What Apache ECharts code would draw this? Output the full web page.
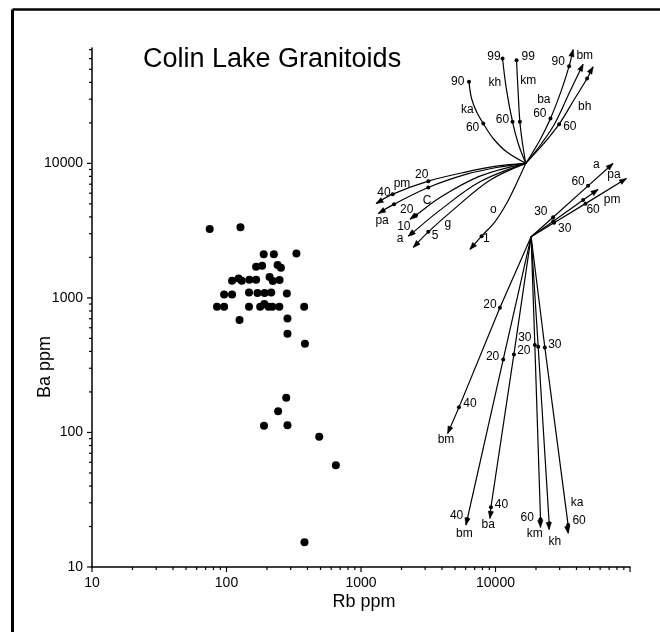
<!DOCTYPE html>
<html>
<head>
<meta charset="utf-8">
<script src="https://cdn.jsdelivr.net/npm/echarts@6/dist/echarts.min.js"></script>
<style>
  html, body { margin: 0; padding: 0; background: #fff; }
  #chart { width: 660px; height: 632px; }
</style>
</head>
<body>
<div id="chart"></div>
<script>
// Axis ranges and tick labels
const rbRange = [10, 100000];
const baRange = [10, 72000];
const xTickLabels = ['10', '100', '1000', '10000'];
const yTickLabels = ['10', '100', '1000', '10000'];

// Whole-rock samples, Colin Lake granitoids
const sampleRb = [75, 127, 189, 225, 331, 166, 184, 240, 254, 110, 123, 130, 148, 166, 209, 221, 248,
  96, 110, 147, 170, 192, 215, 281, 85, 96, 147, 178, 191, 205, 219, 247, 378, 125, 284, 284, 383,
  278, 242, 190, 284, 489, 650, 380];
const sampleBa = [3245, 3357, 2115, 2115, 2141, 1703, 1732, 1753, 1673, 1340, 1396, 1340, 1363, 1363, 1427, 1333, 1356,
  1062, 1062, 1099, 1086, 1086, 1099, 1080, 859, 859, 859, 859, 899, 859, 859, 859, 859, 684, 704, 541, 456,
  181, 144, 112, 113, 93, 57, 15.3];

// Partial-melting vectors (curved), all starting at the same source composition
const meltKa = [[16800, 10000], [12080, 12180], [9620, 15300], [8110, 19780], [7230, 24150], [6640, 30330], [6350, 40350]];
const meltKh = [[16800, 10000], [14750, 14050], [13390, 20350], [12080, 34990], [11280, 60130]];
const meltKm = [[16800, 10000], [15880, 14050], [15180, 20350], [14750, 33050], [14330, 58440]];
const meltBa = [[16800, 10000], [21360, 14870], [25630, 21540], [30930, 34990], [35270, 52760], [37760, 70150]];
const meltBm = [[16800, 10000], [21980, 14050], [27610, 19780], [35680, 34010], [44810, 54580]];
const meltBh = [[16800, 10000], [22870, 14050], [29730, 19550], [38860, 30330], [47970, 42700], [53150, 52150]];
const meltPm = [[16800, 10000], [10180, 9533], [6100, 8650], [3166, 7376], [1722, 5905], [1295, 5035]];
const meltPa = [[16800, 10000], [10180, 9320], [6100, 8310], [3166, 6622], [1761, 4977], [1347, 4245]];
const meltC = [[16800, 10000], [7660, 8030], [3870, 5580], [2564, 4123], [2314, 3849]];
const meltA = [[16800, 10000], [7660, 7290], [3870, 4490], [2383, 3015], [2248, 2878]];
const meltG = [[16800, 10000], [9090, 7500], [5140, 4750], [3166, 3098], [2449, 2373]];
const meltO = [[16800, 10000], [14330, 7090], [12080, 5030], [9900, 3680], [7884, 2878], [6457, 2293]];

// Fractional-crystallisation vectors (straight), from a second parent composition
const fracA = [[18400, 2850], [26820, 3977], [48780, 6805], [74780, 9984]];
const fracPa = [[18400, 2850], [26910, 3720], [44790, 5337], [57860, 6399]];
const fracPm = [[18400, 2850], [27280, 3614], [46660, 5019], [94040, 7723]];
const fracBm1 = [[18400, 2850], [10780, 845], [5350, 153.6], [4409, 98.4]];
const fracBm2 = [[18400, 2850], [11415, 349], [6168, 22.7], [6030, 20.5]];
const fracBa = [[18400, 2850], [13700, 380], [9246, 27.8], [9088, 23.0]];
const fracKm = [[18400, 2850], [19610, 446], [21610, 22.6], [21610, 19.7]];
const fracKh = [[18400, 2850], [20770, 433.5], [25060, 21.1], [25060, 19.0]];
const fracKa = [[18400, 2850], [23270, 428.5], [34670, 20.5], [34670, 17.8]];

// Percentage marks along the vectors
const vectorDots = [
  [8110, 19780], [6350, 40350], [13390, 20350], [11280, 60130], [15180, 20350], [14330, 58440],
  [25630, 21540], [35270, 52760], [29730, 19550], [47970, 42700],
  [3166, 7376], [1722, 5905], [3166, 6622], [1761, 4977], [2564, 4123], [2383, 3015], [3166, 3098], [7884, 2878],
  [26820, 3977], [48780, 6805], [26910, 3720], [44790, 5337], [27280, 3614], [46660, 5019],
  [10780, 845], [5350, 153.6], [11415, 349], [6168, 22.7], [13700, 380], [9246, 27.8],
  [19610, 446], [21610, 22.6], [20770, 433.5], [25060, 21.1], [23270, 428.5], [34670, 20.5]
];

// Mineral and percentage annotations: [text, Rb, Ba]
const vectorLabels = [
  ['99', 9728, 61870], ['99', 17500, 61870], ['90', 5229, 40800], ['kh', 9897, 39660], ['km', 17500, 41040],
  ['ka', 6167, 24850], ['60', 6757, 18470], ['60', 11280, 20940], ['ba', 22870, 29480], ['60', 21360, 23470],
  ['90', 29220, 56790], ['bm', 46110, 63660], ['bh', 46110, 26300], ['60', 35680, 18680],
  ['20', 2828, 8241], ['pm', 2018, 7092], ['40', 1480, 6100], ['pa', 1434, 3752], ['C', 3095, 5239],
  ['20', 2188, 4514], ['10', 2082, 3375], ['a', 1951, 2744], ['g', 4418, 3552], ['5', 3549, 2878],
  ['o', 9647, 4491], ['1', 8560, 2744],
  ['a', 56310, 9696], ['60', 41120, 7290], ['pa', 76070, 8172], ['pm', 73530, 5329], ['60', 53130, 4491],
  ['30', 21730, 4362], ['30', 32750, 3283],
  ['20', 9088, 894], ['40', 6457, 164], ['bm', 4284, 88], ['20', 9512, 365], ['30', 16530, 508],
  ['20', 16250, 402], ['30', 27610, 451], ['40', 11090, 28.9], ['40', 5140, 23.9], ['bm', 5861, 17.8],
  ['ba', 8834, 20.5], ['60', 17200, 23.4], ['km', 19610, 17.6], ['kh', 27610, 15.4], ['ka', 40440, 30.1],
  ['60', 41850, 22.1]
];

const vectorList = [
  { pts: meltKa, arrow: false, smooth: 0.35 },
  { pts: meltKh, arrow: false, smooth: 0.35 },
  { pts: meltKm, arrow: false, smooth: 0.35 },
  { pts: meltBa, arrow: true, smooth: 0.35 },
  { pts: meltBm, arrow: true, smooth: 0.35 },
  { pts: meltBh, arrow: true, smooth: 0.35 },
  { pts: meltPm, arrow: true, smooth: 0.35 },
  { pts: meltPa, arrow: true, smooth: 0.35 },
  { pts: meltC, arrow: true, smooth: 0.35 },
  { pts: meltA, arrow: true, smooth: 0.35 },
  { pts: meltG, arrow: true, smooth: 0.35 },
  { pts: meltO, arrow: true, smooth: 0.35 },
  { pts: fracA, arrow: true, smooth: 0 },
  { pts: fracPa, arrow: true, smooth: 0 },
  { pts: fracPm, arrow: true, smooth: 0 },
  { pts: fracBm1, arrow: true, smooth: 0 },
  { pts: fracBm2, arrow: true, smooth: 0 },
  { pts: fracBa, arrow: true, smooth: 0 },
  { pts: fracKm, arrow: true, smooth: 0 },
  { pts: fracKh, arrow: true, smooth: 0 },
  { pts: fracKa, arrow: true, smooth: 0 }
];

const FONT = '"Liberation Sans", Arial, Helvetica, sans-serif';

// Log tick positions: decades get long ticks, 2..9 multiples get short ones
function logTicks(range) {
  const out = [];
  for (let d = range[0]; d <= range[1]; d *= 10) {
    out.push([d, 5]);
    for (let m = 2; m <= 9; m++) {
      if (m * d <= range[1] * 1.0001) out.push([m * d, 3]);
    }
  }
  return out;
}

function tickSeries(axis) {
  const ticks = logTicks(axis === 'x' ? rbRange : baRange);
  return {
    type: 'custom',
    coordinateSystem: 'cartesian2d',
    silent: true,
    clip: false,
    z: 4,
    data: ticks.map(t => axis === 'x' ? [t[0], baRange[0], t[1]] : [rbRange[0], t[0], t[1]]),
    renderItem(params, api) {
      const p = api.coord([api.value(0), api.value(1)]);
      const len = api.value(2);
      const shape = axis === 'x'
        ? { x1: p[0], y1: p[1], x2: p[0], y2: p[1] + len }
        : { x1: p[0] - len, y1: p[1], x2: p[0], y2: p[1] };
      return { type: 'line', shape, style: { stroke: '#000', lineWidth: 1.2 } };
    }
  };
}

function vectorSeries() {
  return {
    type: 'custom',
    coordinateSystem: 'cartesian2d',
    silent: true,
    clip: false,
    z: 3,
    data: vectorList.map((v, i) => [v.pts[0][0], v.pts[0][1], i]),
    renderItem(params, api) {
      const v = vectorList[api.value(2)];
      const pts = v.pts.map(p => api.coord(p));
      const children = [{
        type: 'polyline',
        shape: { points: pts, smooth: v.smooth },
        style: { stroke: '#000', lineWidth: 1.2, fill: null }
      }];
      if (v.arrow) {
        const tip = pts[pts.length - 1];
        let k = pts.length - 2;
        while (k > 0 && Math.hypot(tip[0] - pts[k][0], tip[1] - pts[k][1]) < 14) k--;
        const dx = tip[0] - pts[k][0], dy = tip[1] - pts[k][1];
        const L = Math.hypot(dx, dy) || 1;
        const ux = dx / L, uy = dy / L;
        const len = 7, half = 2.6;
        const bx = tip[0] - ux * len, by = tip[1] - uy * len;
        children.push({
          type: 'polygon',
          shape: { points: [tip, [bx - uy * half, by + ux * half], [bx + uy * half, by - ux * half]] },
          style: { fill: '#000', stroke: '#000', lineWidth: 0.6 }
        });
      }
      return { type: 'group', children };
    }
  };
}

function labelSeries() {
  return {
    type: 'custom',
    coordinateSystem: 'cartesian2d',
    silent: true,
    clip: false,
    z: 5,
    data: vectorLabels.map(l => [l[1], l[2]]),
    renderItem(params, api) {
      const p = api.coord([api.value(0), api.value(1)]);
      return {
        type: 'text',
        x: p[0],
        y: p[1],
        style: {
          text: vectorLabels[params.dataIndex][0],
          fill: '#000',
          font: '12px ' + FONT,
          align: 'center',
          verticalAlign: 'middle'
        }
      };
    }
  };
}

const chart = echarts.init(document.getElementById('chart'), null, { renderer: 'canvas' });

chart.setOption({
  backgroundColor: '#fff',
  animation: false,
  grid: { left: 92, right: 30, top: 48, bottom: 65 },
  xAxis: {
    type: 'log',
    logBase: 10,
    min: rbRange[0],
    max: rbRange[1],
    axisLine: { lineStyle: { color: '#000', width: 1.5 } },
    axisTick: { show: false },
    splitLine: { show: false },
    axisLabel: {
      color: '#000',
      fontSize: 14,
      fontFamily: FONT,
      margin: 9,
      formatter: v => {
        const s = String(Math.round(v));
        return xTickLabels.includes(s) ? s : '';
      }
    }
  },
  yAxis: {
    type: 'log',
    logBase: 10,
    min: baRange[0],
    max: baRange[1],
    axisLine: { lineStyle: { color: '#000', width: 1.5 } },
    axisTick: { show: false },
    splitLine: { show: false },
    axisLabel: {
      color: '#000',
      fontSize: 14,
      fontFamily: FONT,
      margin: 9,
      formatter: v => {
        const s = String(Math.round(v));
        return yTickLabels.includes(s) ? s : '';
      }
    }
  },
  graphic: [
    { type: 'line', shape: { x1: 12.5, y1: 9.5, x2: 660, y2: 9.5 }, style: { stroke: '#000', lineWidth: 2.5 } },
    { type: 'line', shape: { x1: 12.5, y1: 9.5, x2: 12.5, y2: 632 }, style: { stroke: '#000', lineWidth: 3 } },
    {
      type: 'text', x: 143, y: 60,
      style: { text: 'Colin Lake Granitoids', fill: '#000', font: '27px ' + FONT, align: 'left', verticalAlign: 'middle' }
    },
    {
      type: 'text', x: 364, y: 602,
      style: { text: 'Rb ppm', fill: '#000', font: '18px ' + FONT, align: 'center', verticalAlign: 'middle' }
    },
    {
      type: 'text', x: 45, y: 367, rotation: Math.PI / 2,
      style: { text: 'Ba ppm', fill: '#000', font: '18px ' + FONT, align: 'center', verticalAlign: 'middle' }
    }
  ],
  series: [
    tickSeries('x'),
    tickSeries('y'),
    vectorSeries(),
    {
      type: 'scatter',
      silent: true,
      z: 4,
      symbol: 'circle',
      symbolSize: 4,
      itemStyle: { color: '#000', opacity: 1 },
      data: vectorDots
    },
    labelSeries(),
    {
      type: 'scatter',
      silent: true,
      z: 6,
      symbol: 'circle',
      symbolSize: 8,
      itemStyle: { color: '#000', opacity: 1 },
      data: sampleRb.map((rb, i) => [rb, sampleBa[i]])
    }
  ]
});
</script>
</body>
</html>
